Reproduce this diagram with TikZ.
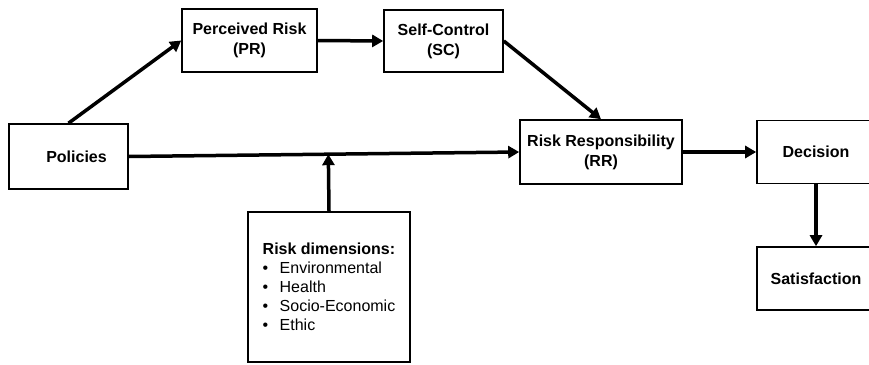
\documentclass[tikz,border=0pt]{standalone}
\usepackage{fontspec}
\setmainfont{Liberation Sans}
\usetikzlibrary{arrows.meta,calc}
\tikzset{
  block/.style={draw, line width=1.6pt, align=center, inner sep=0pt,
    font=\bfseries\fontsize{16}{20}\selectfont},
  flow/.style={line width=3.5pt, -{Triangle[length=11pt,width=12pt]}}
}
\begin{document}
\begin{tikzpicture}[x=1pt,y=-1pt]
      \useasboundingbox (0,0) rectangle (869,364);
      \node[block, minimum width=119pt, minimum height=65pt] (policies) at (68.5,156.5) {\hspace*{16pt}Policies};
      \node[block, minimum width=135pt, minimum height=63pt] (pr) at (249.5,40.5) {Perceived Risk\\(PR)};
      \node[block, minimum width=119pt, minimum height=62pt] (sc) at (443.5,41) {Self-Control\\(SC)};
      \node[block, minimum width=162pt, minimum height=64pt] (rr) at (601,152) {Risk Responsibility\\(RR)};
      \node[block, minimum width=118pt, minimum height=63pt] (decision) at (816,152) {Decision};
      \node[block, minimum width=118pt, minimum height=63pt] (satisfaction) at (816,278.5) {Satisfaction};
      \node[block, align=left, minimum width=162pt, minimum height=150pt,
        font=\fontsize{16}{19}\selectfont] (dims) at (329,287)
        {\textbf{Risk dimensions:}\\
         \makebox[17pt][l]{\textbullet}Environmental\\
         \makebox[17pt][l]{\textbullet}Health\\
         \makebox[17pt][l]{\textbullet}Socio-Economic\\
         \makebox[17pt][l]{\textbullet}Ethic};
      \coordinate (join) at ($(policies.east)!(dims.north)!(rr.west)$);
      \begin{scope}[flow]
        \draw (policies.north) to (pr.west);
        \draw (pr.east) to (sc.west);
        \draw (sc.east) to (rr.north);
        \draw (policies.east) to (rr.west);
        \draw (dims.north) to (join);
        \draw (rr.east) to (decision.west);
        \draw (decision.south) to (satisfaction.north);
      \end{scope}
    \end{tikzpicture}
\end{document}
